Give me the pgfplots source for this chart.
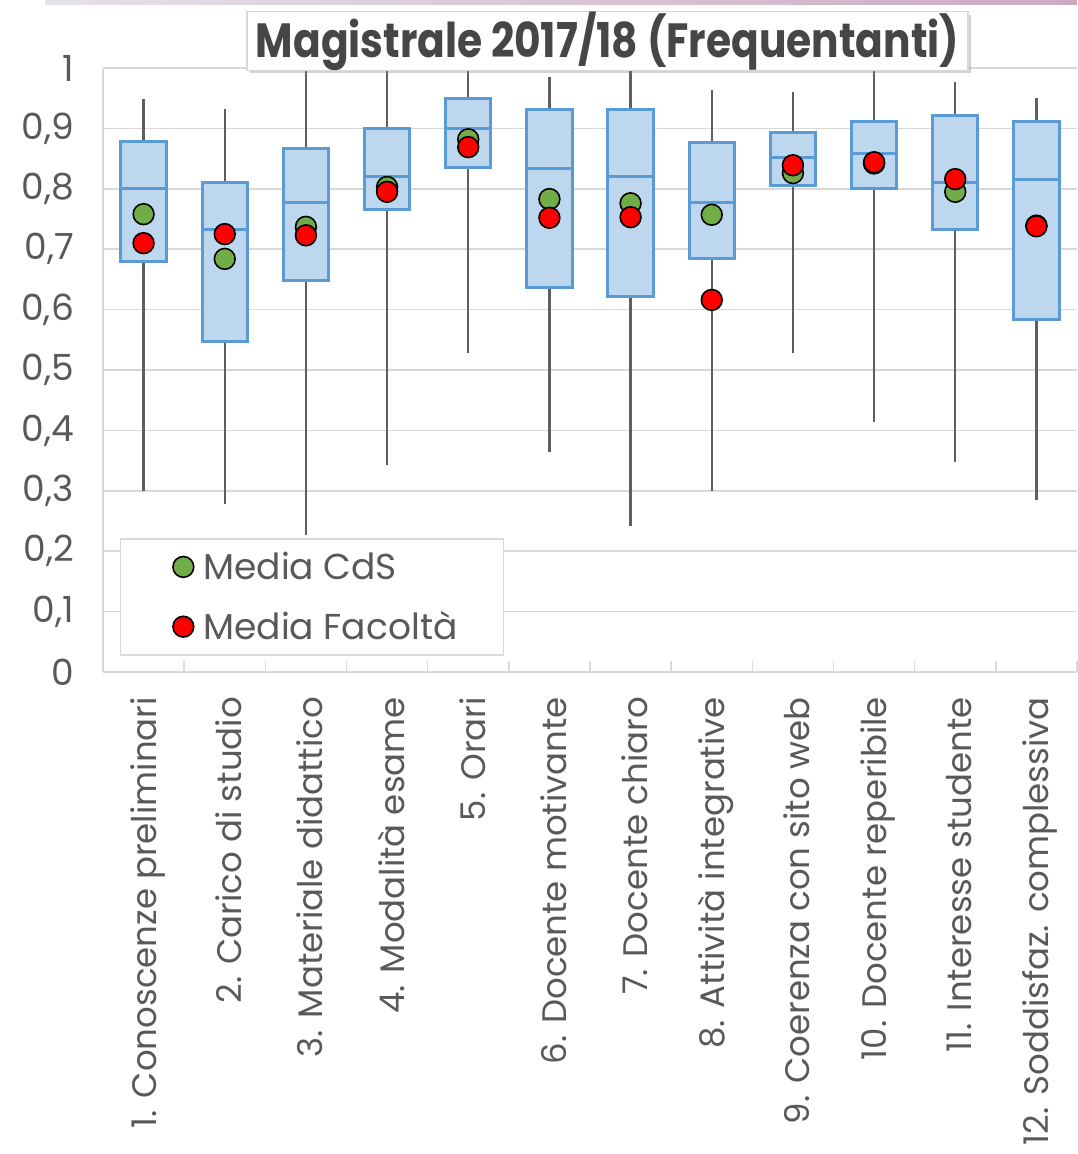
\documentclass[border=0pt]{standalone}
\usepackage{fontspec}
\setmainfont{Poppins}
\usepackage{graphicx}
\usepackage{pgfplots}
\pgfplotsset{compat=1.18}
\usepgfplotslibrary{statistics}
\usetikzlibrary{shadows}
\definecolor{boxfill}{RGB}{189,215,238}
\definecolor{boxdraw}{RGB}{91,155,213}
\definecolor{whisk}{RGB}{95,95,95}
\definecolor{gridc}{RGB}{217,217,217}
\definecolor{txt}{RGB}{89,89,89}
\definecolor{titlec}{RGB}{70,70,70}
\definecolor{cds}{RGB}{112,173,71}
\definecolor{fac}{RGB}{255,0,0}
\pgfplotsset{
  mybox/.style={forget plot, draw=boxdraw, fill=boxfill, line width=1.5pt,
    boxplot/draw direction=y, boxplot/box extend=0.56, boxplot/whisker extend=0,
    boxplot/every whisker/.style={draw=whisk, line width=1.1pt},
    boxplot/every median/.style={draw=boxdraw, line width=1.5pt}},
}
\begin{document}
\begin{tikzpicture}
\path[use as bounding box] (-51.5pt,-241pt) rectangle (487pt,336pt);
\shade[left color={rgb,255:red,228;green,225;blue,232}, right color={rgb,255:red,205;green,170;blue,195}] (-29pt,333.5pt) rectangle (487pt,336pt);
\begin{axis}[
  at={(0,0)}, anchor=south west,
  scale only axis, width=487pt, height=302pt,
  xmin=-0.5, xmax=11.5, ymin=0, ymax=1,
  axis lines=left, axis line style={-, draw=gridc, line width=0.8pt},
  ytick={0,0.1,0.2,0.3,0.4,0.5,0.6,0.7,0.8,0.9,1},
  ymajorgrids, major grid style={draw=gridc, line width=0.8pt},
  xtick={0,1,2,3,4,5,6,7,8,9,10,11},
  minor xtick={-0.5,0.5,1.5,2.5,3.5,4.5,5.5,6.5,7.5,8.5,9.5,10.5,11.5},
  major tick length=0pt, minor tick length=5.5pt, tick align=inside,
  minor x tick style={draw=gridc, line width=0.8pt},
  xticklabels={1. Conoscenze preliminari, 2. Carico di studio, 3. Materiale didattico, 4. Modalità esame, 5. Orari, 6. Docente motivante, 7. Docente chiaro, 8. Attività integrative, 9. Coerenza con sito web, 10. Docente reperibile, 11. Interesse studente, 12. Soddisfaz. complessiva},
  xticklabel style={rotate=90, anchor=east, xshift=-9pt, yshift=-2pt, font=\fontsize{17}{20}\selectfont, text=txt},
  yticklabel style={xshift=-11pt, font=\fontsize{18}{21}\selectfont, text=txt},
  /pgf/number format/.cd, use comma, fixed, precision=1, assume math mode=true, /pgfplots/.cd,
  clip=false,
  legend style={at={(0.017,0.222)}, anchor=north west, draw=gridc, line width=0.8pt, fill=white,
    font=\fontsize{18}{21}\selectfont, text=txt, inner xsep=21pt, inner ysep=4.5pt, row sep=10.5pt},
  legend cell align=left,
  legend image code/.code={\draw[#1] plot coordinates {(0pt,0pt)}; \path[draw=none, fill=none] (-10.5pt,0pt) -- (8pt,0pt);},
]
\addplot[mybox, boxplot prepared={lower whisker=0.300, lower quartile=0.680, median=0.800, upper quartile=0.879, upper whisker=0.949, draw position=0}] coordinates {};
\addplot[mybox, boxplot prepared={lower whisker=0.278, lower quartile=0.548, median=0.732, upper quartile=0.810, upper whisker=0.932, draw position=1}] coordinates {};
\addplot[mybox, boxplot prepared={lower whisker=0.227, lower quartile=0.649, median=0.777, upper quartile=0.866, upper whisker=1.000, draw position=2}] coordinates {};
\addplot[mybox, boxplot prepared={lower whisker=0.343, lower quartile=0.765, median=0.820, upper quartile=0.899, upper whisker=1.000, draw position=3}] coordinates {};
\addplot[mybox, boxplot prepared={lower whisker=0.528, lower quartile=0.836, median=0.899, upper quartile=0.949, upper whisker=1.000, draw position=4}] coordinates {};
\addplot[mybox, boxplot prepared={lower whisker=0.364, lower quartile=0.636, median=0.833, upper quartile=0.932, upper whisker=0.985, draw position=5}] coordinates {};
\addplot[mybox, boxplot prepared={lower whisker=0.242, lower quartile=0.621, median=0.820, upper quartile=0.932, upper whisker=1.000, draw position=6}] coordinates {};
\addplot[mybox, boxplot prepared={lower whisker=0.300, lower quartile=0.684, median=0.777, upper quartile=0.876, upper whisker=0.964, draw position=7}] coordinates {};
\addplot[mybox, boxplot prepared={lower whisker=0.528, lower quartile=0.806, median=0.851, upper quartile=0.893, upper whisker=0.960, draw position=8}] coordinates {};
\addplot[mybox, boxplot prepared={lower whisker=0.414, lower quartile=0.800, median=0.858, upper quartile=0.912, upper whisker=1.000, draw position=9}] coordinates {};
\addplot[mybox, boxplot prepared={lower whisker=0.348, lower quartile=0.732, median=0.810, upper quartile=0.922, upper whisker=0.977, draw position=10}] coordinates {};
\addplot[mybox, boxplot prepared={lower whisker=0.285, lower quartile=0.584, median=0.816, upper quartile=0.912, upper whisker=0.950, draw position=11}] coordinates {};
\addplot[only marks, mark=*, mark size=5.2pt, mark options={fill=cds, draw=black, line width=0.8pt}]
  coordinates {(0,0.758)(1,0.684)(2,0.737)(3,0.803)(4,0.882)(5,0.783)(6,0.776)(7,0.757)(8,0.826)(9,0.842)(10,0.795)(11,0.739)};
\addlegendentry{Media CdS}
\addplot[only marks, mark=*, mark size=5.2pt, mark options={fill=fac, draw=black, line width=0.8pt}]
  coordinates {(0,0.710)(1,0.725)(2,0.723)(3,0.795)(4,0.869)(5,0.752)(6,0.753)(7,0.616)(8,0.839)(9,0.844)(10,0.816)(11,0.738)};
\addlegendentry{Media Facoltà}
\end{axis}
\node[draw=gridc, line width=0.8pt, fill=white, drop shadow={shadow xshift=1.5pt, shadow yshift=-1.5pt, opacity=0.35},
  minimum width=360.5pt, minimum height=29pt, inner sep=0pt, text=titlec,
  font=\fontsize{24}{28}\selectfont\bfseries] at (252.25pt,315.5pt) {\scalebox{0.85}[1]{Magistrale 2017/18 (Frequentanti)}};
\end{tikzpicture}
\end{document}
